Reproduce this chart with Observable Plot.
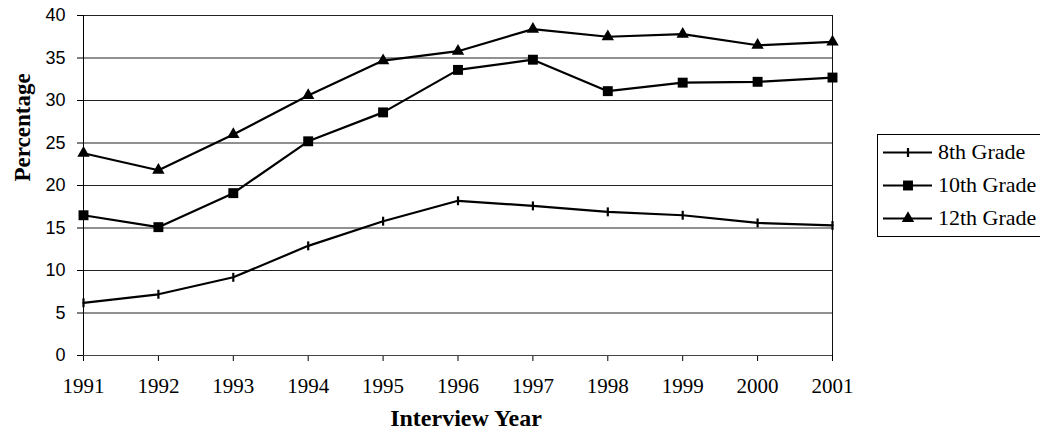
<!DOCTYPE html>
<html>
<head>
<meta charset="utf-8">
<script src="https://cdn.jsdelivr.net/npm/d3@7"></script>
<script src="https://cdn.jsdelivr.net/npm/@observablehq/plot@0.6"></script>
<style>
  html, body { margin: 0; padding: 0; background: #fff; }
  #chart { width: 1040px; height: 438px; }
</style>
</head>
<body>
<div id="chart"></div>
<script>
const years = [1991, 1992, 1993, 1994, 1995, 1996, 1997, 1998, 1999, 2000, 2001];
const grade8 = [6.2, 7.2, 9.2, 12.9, 15.8, 18.2, 17.6, 16.9, 16.5, 15.6, 15.3];
const grade10 = [16.5, 15.1, 19.1, 25.2, 28.6, 33.6, 34.8, 31.1, 32.1, 32.2, 32.7];
const grade12 = [23.8, 21.8, 26.0, 30.6, 34.7, 35.8, 38.4, 37.5, 37.8, 36.5, 36.9];
const seriesNames = ["8th Grade", "10th Grade", "12th Grade"];
const yTicks = [0, 5, 10, 15, 20, 25, 30, 35, 40];
const gridValues = [5, 10, 15, 20, 25, 30, 35, 40];

const toRows = (vals) => years.map((y, i) => ({year: y, value: vals[i]}));
const rows8 = toRows(grade8), rows10 = toRows(grade10), rows12 = toRows(grade12);

const vTick = {
  draw(context, size) {
    const h = Math.sqrt(size) * 0.45;
    context.moveTo(0, -h);
    context.lineTo(0, h);
  }
};

const serif = "'Liberation Serif', 'Times New Roman', serif";
const sans = "'Liberation Sans', Arial, sans-serif";

const plot = Plot.plot({
  width: 1040,
  height: 438,
  marginLeft: 83,
  marginRight: 208,
  marginTop: 15,
  marginBottom: 83,
  style: {background: "#fff", color: "#000", overflow: "visible"},
  x: {type: "linear", domain: [1991, 2001]},
  y: {domain: [0, 40]},
  marks: [
    Plot.ruleY(gridValues, {stroke: "#222", strokeWidth: 1}),
    Plot.ruleX([2001], {stroke: "#111", strokeWidth: 1}),
    Plot.axisY({ticks: yTicks, tickSize: 6, tickPadding: 12, fontSize: 18, fontFamily: sans, label: null}),
    Plot.axisX({ticks: years, tickFormat: d => String(d), tickSize: 6, tickPadding: 17, fontSize: 21, fontFamily: serif, label: null}),
    Plot.ruleX([1991], {stroke: "#000", strokeWidth: 1}),
    Plot.ruleY([0], {stroke: "#444", strokeWidth: 1}),
    Plot.line(rows8, {x: "year", y: "value", stroke: "#000", strokeWidth: 2.2}),
    Plot.line(rows10, {x: "year", y: "value", stroke: "#000", strokeWidth: 2.2}),
    Plot.line(rows12, {x: "year", y: "value", stroke: "#000", strokeWidth: 2.2}),
    Plot.dot(rows8, {x: "year", y: "value", symbol: vTick, r: 5.6, stroke: "#000", strokeWidth: 2.2, fill: "none"}),
    Plot.dot(rows10, {x: "year", y: "value", symbol: "square", r: 5.6, fill: "#000", stroke: "none"}),
    Plot.dot(rows12, {x: "year", y: "value", symbol: "triangle", r: 4.6, fill: "#000", stroke: "none"}),
    Plot.text(["Percentage"], {frameAnchor: "left", dx: -61, dy: -4, rotate: -90, fontSize: 23, fontWeight: "bold", fontFamily: serif, fill: "#000"}),
    Plot.text(["Interview Year"], {frameAnchor: "bottom", dx: 8, dy: 70, fontSize: 24, fontWeight: "bold", fontFamily: serif, fill: "#000", style: "letter-spacing:1.5px"})
  ]
});

document.getElementById("chart").appendChild(plot);

// Legend (drawn into the same SVG)
const svg = d3.select(plot);
const lg = svg.append("g").attr("class", "legend").attr("text-anchor", "start");
const boxX = 877.5, boxY = 134.5, boxW = 170, boxH = 102;
lg.append("rect").attr("x", boxX).attr("y", boxY).attr("width", boxW).attr("height", boxH)
  .attr("fill", "#fff").attr("stroke", "#000").attr("stroke-width", 1);
const rowY = [152.5, 185.5, 218.5];
const symGen = [
  null,
  d3.symbol(d3.symbolSquare, Math.PI * 5.6 * 5.6),
  d3.symbol(d3.symbolTriangle, Math.PI * 4.6 * 4.6)
];
seriesNames.forEach((name, i) => {
  const y = rowY[i];
  lg.append("line").attr("x1", 883).attr("x2", 932).attr("y1", y).attr("y2", y)
    .attr("stroke", "#000").attr("stroke-width", 2.2);
  if (i === 0) {
    lg.append("line").attr("x1", 908).attr("x2", 908).attr("y1", y - 4.5).attr("y2", y + 4.5)
      .attr("stroke", "#000").attr("stroke-width", 2.2);
  } else {
    lg.append("path").attr("d", symGen[i]()).attr("transform", `translate(908,${y})`).attr("fill", "#000");
  }
  lg.append("text").attr("x", 938).attr("y", y + 6.5).attr("text-anchor", "start").text(name)
    .attr("font-family", serif).attr("font-size", 22).attr("fill", "#000");
});
</script>
</body>
</html>
